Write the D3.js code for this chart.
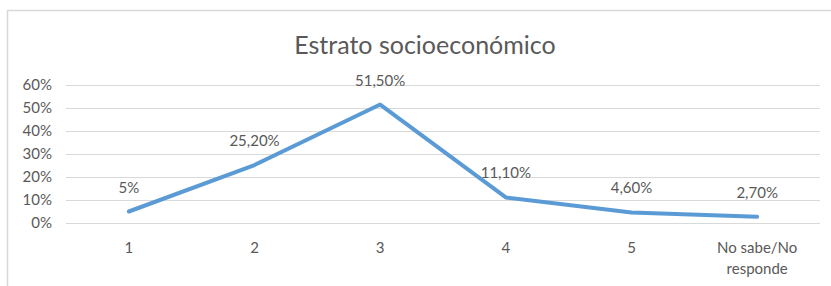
<!DOCTYPE html>
<html>
<head>
<meta charset="utf-8">
<script src="https://cdn.jsdelivr.net/npm/d3@7"></script>
<style>
  body { margin: 0; background: #fff; }
  svg text { font-family: Lato, "Open Sans", sans-serif; fill: #595959; }
</style>
</head>
<body>
<div id="chart"></div>
<script>
// data
const categories = ["1", "2", "3", "4", "5", "No sabe/No responde"];
const values = [5, 25.2, 51.5, 11.1, 4.6, 2.7];
const labels = ["5%", "25,20%", "51,50%", "11,10%", "4,60%", "2,70%"];
const yTicks = [0, 10, 20, 30, 40, 50, 60];

const W = 831, H = 286;
const margin = { top: 85, right: 11, bottom: 63, left: 66 };
const width = W - margin.left - margin.right;
const height = H - margin.top - margin.bottom;

const svg = d3.select("#chart")
  .append("svg")
    .attr("width", W)
    .attr("height", H);

// chart frame
svg.append("rect")
  .attr("x", 7.5).attr("y", 10.5)
  .attr("width", W + 20).attr("height", H + 20)
  .attr("fill", "none")
  .attr("stroke", "#d9d9d9")
  .attr("stroke-width", 1.5);

svg.append("text")
  .attr("x", 425).attr("y", 54)
  .attr("text-anchor", "middle")
  .style("font-size", "25px")
  .text("Estrato socioeconómico");

const g = svg.append("g")
  .attr("transform", `translate(${margin.left},${margin.top})`);

const x = d3.scaleBand()
  .domain(categories)
  .range([0, width]);

const y = d3.scaleLinear()
  .domain([0, 60])
  .range([height, 0]);

// grid + y labels
const yAxis = g.append("g")
  .call(d3.axisLeft(y).tickValues(yTicks).tickSize(-width).tickFormat(d => d + "%").tickPadding(14));
yAxis.select(".domain").remove();
yAxis.selectAll("line").attr("stroke", "#d9d9d9").attr("stroke-width", 1.2);
yAxis.selectAll("text").style("font-size", "15px");

// x labels
const xAxis = g.append("g")
  .attr("transform", `translate(0,${height})`)
  .call(d3.axisBottom(x).tickSize(0).tickPadding(19));
xAxis.select(".domain").remove();
xAxis.selectAll("text")
  .style("font-size", "15px")
  .each(function (d) {
    if (d.length > 10) {
      const t = d3.select(this);
      t.text(null);
      t.append("tspan").attr("x", 0).attr("dy", "0.71em").text("No sabe/No");
      t.append("tspan").attr("x", 0).attr("dy", "1.45em").text("responde");
    }
  });

const line = d3.line()
  .x((d, i) => x(categories[i]) + x.bandwidth() / 2)
  .y(d => y(d));

g.append("path")
  .datum(values)
  .attr("fill", "none")
  .attr("stroke", "#5b9bd5")
  .attr("stroke-width", 4)
  .attr("stroke-linejoin", "round")
  .attr("stroke-linecap", "round")
  .attr("d", line);

g.selectAll(".lbl")
  .data(values)
  .join("text")
    .attr("class", "lbl")
    .attr("x", (d, i) => x(categories[i]) + x.bandwidth() / 2)
    .attr("y", d => y(d) - 19)
    .attr("text-anchor", "middle")
    .style("font-size", "15px")
    .text((d, i) => labels[i]);
</script>
</body>
</html>
